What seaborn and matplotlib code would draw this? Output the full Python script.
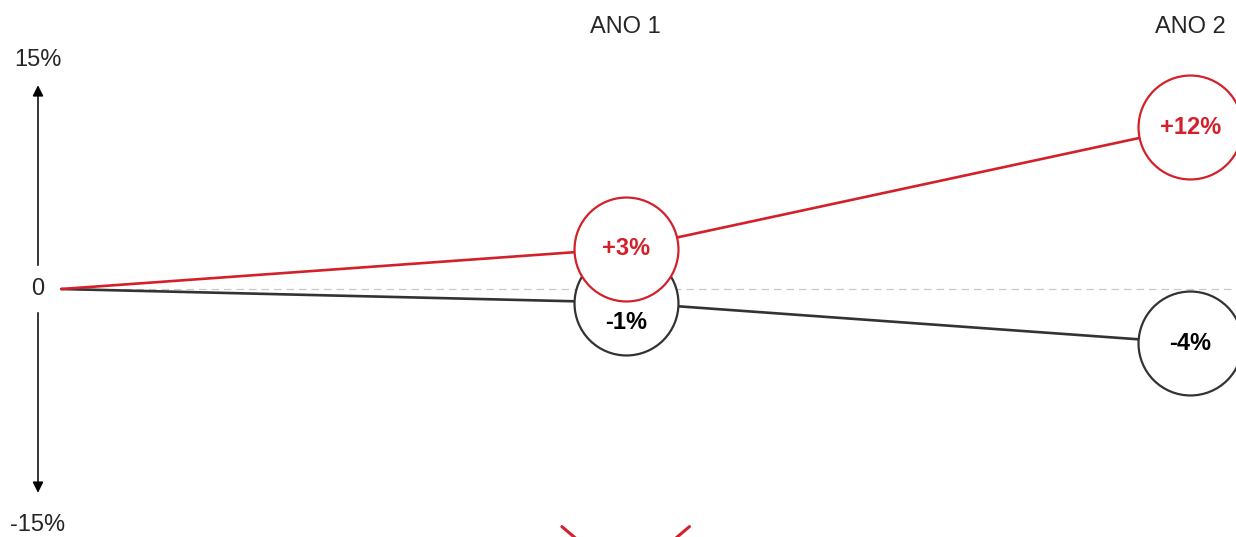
import matplotlib
matplotlib.use("Agg")
import matplotlib.pyplot as plt
import matplotlib.transforms as mtransforms
import pandas as pd
import seaborn as sns

# data
periods = ["", "ANO 1", "ANO 2"]
red_vals = [0, 3, 12]
dark_vals = [0, -1, -4]
red_labels = ["", "+3%", "+12%"]
dark_labels = ["", "-1%", "-4%"]
axis_top, axis_bottom = 15, -15

RED = "#d3212b"
DARK = "#333333"

df = pd.DataFrame({
    "x": list(range(len(periods))) * 2,
    "valor": red_vals + dark_vals,
    "serie": ["red"] * len(red_vals) + ["dark"] * len(dark_vals),
})

sns.set_style("white")
plt.rcParams["font.family"] = ["Liberation Sans", "DejaVu Sans"]

fig = plt.figure(figsize=(12.36, 5.37), dpi=100)
ax = fig.add_axes([0, 0, 1, 1])
ax.set_xlim(-0.1084, 2.0812)
ax.set_ylim(-18.37, 21.41)
ax.axis("off")

# zero reference line
ax.plot([0, 3], [0, 0], color="#c8c8c8", lw=0.9, ls=(0, (6, 4)), zorder=1)

sns.lineplot(data=df, x="x", y="valor", hue="serie", hue_order=["dark", "red"],
             palette={"dark": DARK, "red": RED}, lw=1.9, legend=False, ax=ax, zorder=2)

pts = df[df["x"] > 0]
sns.scatterplot(data=pts[pts["serie"] == "dark"], x="x", y="valor", s=5600, color="white",
                edgecolor=DARK, linewidth=1.6, legend=False, ax=ax, zorder=3)
sns.scatterplot(data=pts[pts["serie"] == "red"], x="x", y="valor", s=5600, color="white",
                edgecolor=RED, linewidth=1.6, legend=False, ax=ax, zorder=4)

for i in range(1, len(periods)):
    ax.text(i, red_vals[i], red_labels[i], color=RED, fontsize=17, fontweight="bold",
            ha="center", va="center", zorder=5)
    dy = -1.5 if abs(red_vals[i] - dark_vals[i]) < 6 else 0
    ax.text(i, dark_vals[i] + dy, dark_labels[i], color="black", fontsize=17, fontweight="bold",
            ha="center", va="center", zorder=5)

# period labels on top
top = mtransforms.blended_transform_factory(ax.transData, ax.transAxes)
for i in range(1, len(periods)):
    ax.text(i, 0.95, periods[i], transform=top, fontsize=17, ha="center", va="center")

# vertical axis with arrows
left = mtransforms.blended_transform_factory(ax.transAxes, ax.transData)
ax_x = 38 / 1236
ax.annotate("", xy=(ax_x, axis_top + 0.3), xytext=(ax_x, 1.55), xycoords=left, textcoords=left,
            arrowprops=dict(arrowstyle="-|>", color="black", lw=1.1, mutation_scale=16))
ax.annotate("", xy=(ax_x, axis_bottom - 0.3), xytext=(ax_x, -1.55), xycoords=left, textcoords=left,
            arrowprops=dict(arrowstyle="-|>", color="black", lw=1.1, mutation_scale=16))
ax.text(ax_x, 16.95, f"{axis_top}%", transform=left, fontsize=17, ha="center", va="center")
ax.text(ax_x, 0, "0", transform=left, fontsize=17, ha="center", va="center")
ax.text(ax_x, -17.45, f"{axis_bottom}%", transform=left, fontsize=17, ha="center", va="center")

# red chevron clipped at the bottom edge
ax.plot([1 - 0.113, 1, 1 + 0.113], [-17.6, -21.6, -17.6], color=RED, lw=2.2, zorder=2)

fig.savefig("out.png", dpi=100)
